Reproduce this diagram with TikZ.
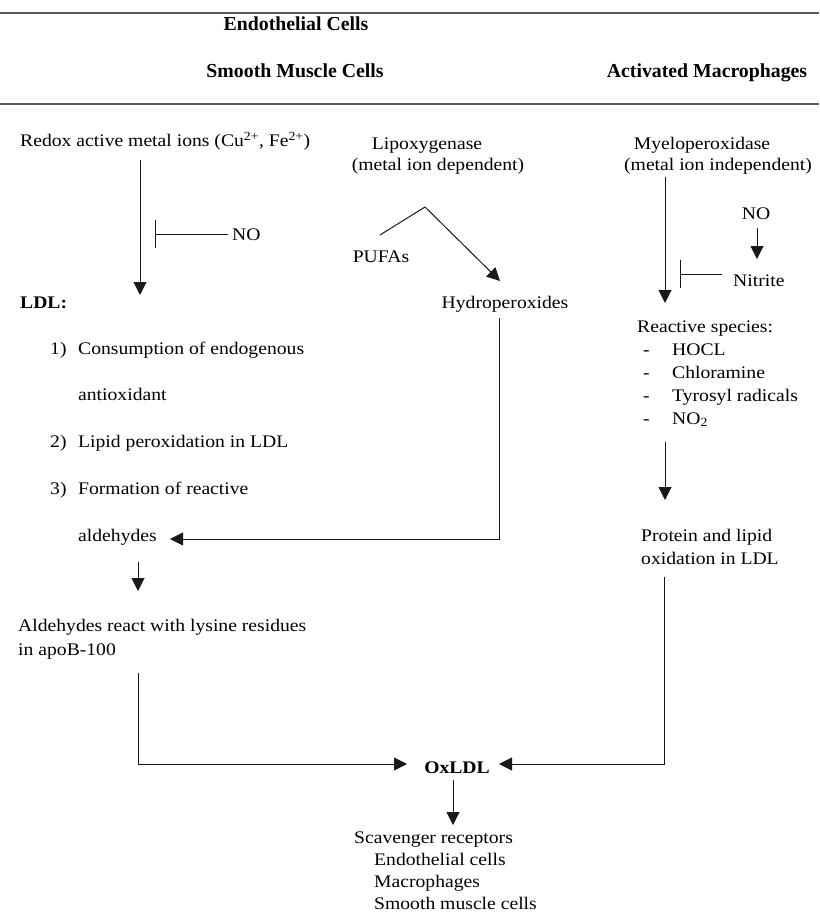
\documentclass[tikz,border=0pt]{standalone}
\usepackage{fontspec}
\setmainfont{Liberation Serif}[FakeStretch=1.11]
\newfontfamily\hdrfont{Liberation Serif}
\usetikzlibrary{arrows.meta}
\begin{document}
\begin{tikzpicture}[x=1pt,y=-1pt,
 txt/.style={inner sep=0pt, font=\fontsize{17.7}{23}\selectfont, text=black},
 btxt/.style={txt, font=\bfseries\fontsize{17.7}{23}\selectfont},
 hdr/.style={inner sep=0pt, font=\hdrfont\bfseries\fontsize{19.8}{24}\selectfont, text=black},
 conn/.style={line width=1pt, draw=black!90},
 arr/.style={conn, -{Triangle[width=13pt,length=13pt]}},
 inh/.style={conn, -{Bar[width=28pt]}},
 rulestyle/.style={line width=1.6pt, draw=black!65}]
\useasboundingbox (0,0) rectangle (819,912);
% header rules
\coordinate (rt1) at (0,13); \coordinate (rt2) at (819,13);
\coordinate (rb1) at (0,104); \coordinate (rb2) at (819,104);
\draw[rulestyle] (rt1) -- (rt2);
\draw[rulestyle] (rb1) -- (rb2);
% headers
\node[hdr, anchor=base] (h1) at (296,31) {Endothelial Cells};
\node[hdr, anchor=base] (h2) at (295,78) {Smooth Muscle Cells};
\node[hdr, anchor=base] (h3) at (707,78) {Activated Macrophages};
% left column
\node[txt, anchor=base west] (redox) at (20,147) {Redox active metal ions (Cu\textsuperscript{2+}, Fe\textsuperscript{2+})};
\node[txt, anchor=base west] (no1) at (232,240) {NO};
\node[btxt, anchor=base west] (ldl) at (20,308) {LDL:};
\node[txt, anchor=base west] (n1) at (50,354) {1)};
\node[txt, anchor=base west] (t1) at (78,354) {Consumption of endogenous};
\node[txt, anchor=base west] (t1b) at (78,400) {antioxidant};
\node[txt, anchor=base west] (n2) at (50,447) {2)};
\node[txt, anchor=base west] (t2) at (78,447) {Lipid peroxidation in LDL};
\node[txt, anchor=base west] (n3) at (50,494) {3)};
\node[txt, anchor=base west] (t3) at (78,494) {Formation of reactive};
\node[txt, anchor=base west] (ald) at (78,541) {aldehydes};
\node[txt, anchor=base west] (react) at (18,631) {Aldehydes react with lysine residues};
\node[txt, anchor=base west] (apob) at (18,655) {in apoB-100};
% middle column
\node[txt, anchor=base] (lipo) at (427,150) {Lipoxygenase};
\node[txt, anchor=base] (lipo2) at (438,171) {(metal ion dependent)};
\node[txt, anchor=base] (pufa) at (381,262) {PUFAs};
\node[txt, anchor=base] (hydro) at (505,308) {Hydroperoxides};
% right column
\node[txt, anchor=base] (mpo) at (702,150) {Myeloperoxidase};
\node[txt, anchor=base] (mpo2) at (718,171) {(metal ion independent)};
\node[txt, anchor=base] (no2) at (756,219) {NO};
\node[txt, anchor=base west] (nitrite) at (733,286) {Nitrite};
\node[txt, anchor=base west] (rs) at (637,332) {Reactive species:};
\node[txt, anchor=base west] (d1) at (643,355) {-};
\node[txt, anchor=base west] (s1) at (672,355) {HOCL};
\node[txt, anchor=base west] (d2) at (643,378) {-};
\node[txt, anchor=base west] (s2) at (672,378) {Chloramine};
\node[txt, anchor=base west] (d3) at (643,401) {-};
\node[txt, anchor=base west] (s3) at (672,401) {Tyrosyl radicals};
\node[txt, anchor=base west] (d4) at (643,424) {-};
\node[txt, anchor=base west] (s4) at (672,424) {NO\textsubscript{2}};
\node[txt, anchor=base west] (prot) at (641,541) {Protein and lipid};
\node[txt, anchor=base west] (prot2) at (641,564) {oxidation in LDL};
% bottom
\node[btxt, anchor=base] (ox) at (457,773) {OxLDL};
\node[txt, anchor=base west] (sc) at (354,843) {Scavenger receptors};
\node[txt, anchor=base west] (sc1) at (374,865) {Endothelial cells};
\node[txt, anchor=base west] (sc2) at (374,887) {Macrophages};
\node[txt, anchor=base west] (sc3) at (374,909) {Smooth muscle cells};
% connector coordinates
\coordinate (a1s) at (140,160); \coordinate (a1e) at (140,295);
\coordinate (noL) at (228,234); \coordinate (noB) at (155,234);
\coordinate (pu) at (380,235); \coordinate (apex) at (425,207); \coordinate (hyT) at (500,281);
\coordinate (hyS) at (499,318); \coordinate (hyC) at (499,539); \coordinate (alE) at (170,539);
\coordinate (al1) at (138,562); \coordinate (al2) at (138,591);
\coordinate (rx1) at (138,673); \coordinate (rx2) at (138,764); \coordinate (oxL) at (407,764);
\coordinate (m1) at (665,177); \coordinate (m2) at (665,303);
\coordinate (no2s) at (757,228); \coordinate (no2e) at (757,259);
\coordinate (niL) at (722,274); \coordinate (niB) at (680,274);
\coordinate (r1) at (665,442); \coordinate (r2) at (665,500);
\coordinate (p1) at (664,577); \coordinate (p2) at (664,764); \coordinate (oxR) at (499,764);
\coordinate (o1) at (453,780); \coordinate (o2) at (453,825);
% connectors
\draw[arr] (a1s) -- (a1e);
\draw[inh] (noL) -- (noB);
\draw[arr] (pu) -- (apex) -- (hyT);
\draw[arr] (hyS) -- (hyC) -- (alE);
\draw[arr] (al1) -- (al2);
\draw[arr] (rx1) -- (rx2) -- (oxL);
\draw[arr] (m1) -- (m2);
\draw[arr] (no2s) -- (no2e);
\draw[inh] (niL) -- (niB);
\draw[arr] (r1) -- (r2);
\draw[arr] (p1) -- (p2) -- (oxR);
\draw[arr] (o1) -- (o2);
\end{tikzpicture}
\end{document}
